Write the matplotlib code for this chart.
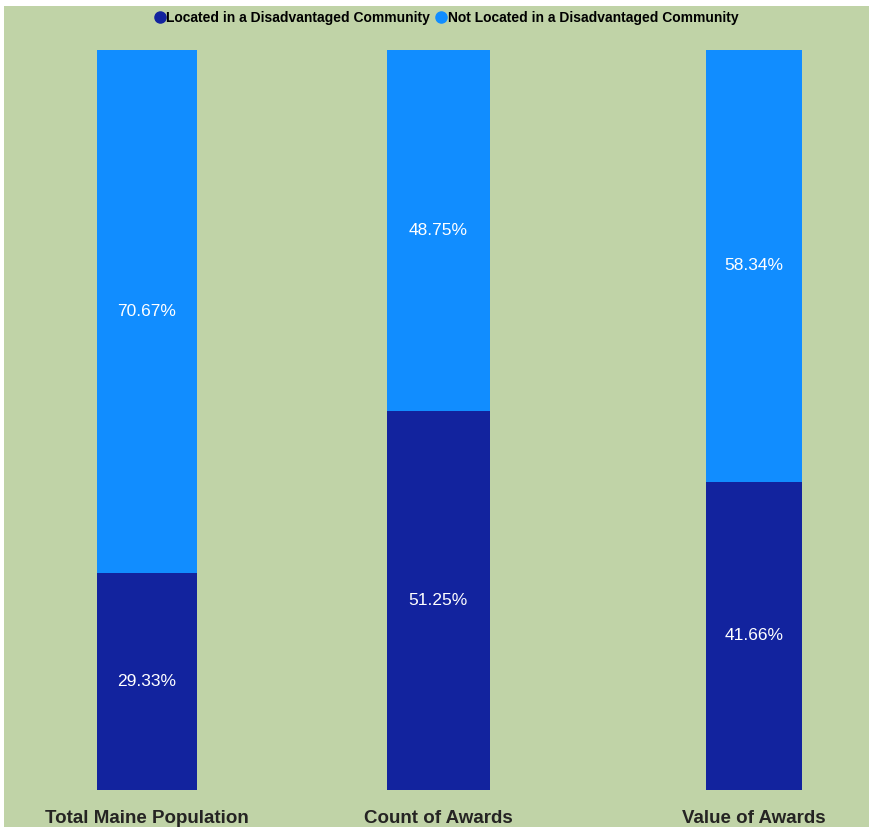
import numpy as np
import matplotlib.pyplot as plt
from matplotlib.patches import Rectangle
from matplotlib.lines import Line2D

# Data (percent shares)
categories = ['Total Maine Population', 'Count of Awards', 'Value of Awards']
located = [29.33, 51.25, 41.66]
not_located = [70.67, 48.75, 58.34]
series_names = ['Located in a Disadvantaged Community', 'Not Located in a Disadvantaged Community']

dark_blue = '#12239E'
light_blue = '#118DFF'
bg = '#C0D3A7'

plt.rcParams['font.family'] = 'Liberation Sans'

fig = plt.figure(figsize=(8.69, 8.27), dpi=100)
fig.patch.set_facecolor('white')
fig.add_artist(Rectangle((4 / 869, 0), 1, 1 - 6 / 827, transform=fig.transFigure,
                         facecolor=bg, edgecolor='none', zorder=0))

ax = fig.add_axes([0, 37 / 827, 1, 740 / 827])
ax.set_facecolor('none')
# bar layout (positions / widths as in the screenshot)
x = np.array([0, 0.96, 2])
w = [0.33, 0.34, 0.317]
ax.bar(x, located, width=w, color=dark_blue)
ax.bar(x, not_located, width=w, bottom=located, color=light_blue)

for xi, lo, nl in zip(x, located, not_located):
    ax.text(xi, lo / 2, f'{lo:.2f}%', ha='center', va='center', color='white', fontsize=12.5)
    ax.text(xi, lo + nl / 2, f'{nl:.2f}%', ha='center', va='center', color='white', fontsize=12.5)

ax.set_xlim(-147 / 303.5, (869 - 147) / 303.5)
ax.set_ylim(0, 100)
ax.set_xticks(x)
ax.set_xticklabels(categories, fontsize=13.5, fontweight='bold', color='#252423')
ax.tick_params(axis='x', length=0, pad=14.5)
ax.set_yticks([])
for s in ax.spines.values():
    s.set_visible(False)

handles = [Line2D([], [], marker='o', linestyle='none', markersize=8, color=dark_blue),
           Line2D([], [], marker='o', linestyle='none', markersize=8, color=light_blue)]
fig.legend(handles, series_names, loc='center', bbox_to_anchor=(0.513, 0.978), ncol=2,
           frameon=False, handletextpad=0.0, columnspacing=0.3, handlelength=1.0,
           prop={'weight': 'bold', 'size': 10})

fig.savefig('out.png', dpi=100, facecolor=fig.get_facecolor())
